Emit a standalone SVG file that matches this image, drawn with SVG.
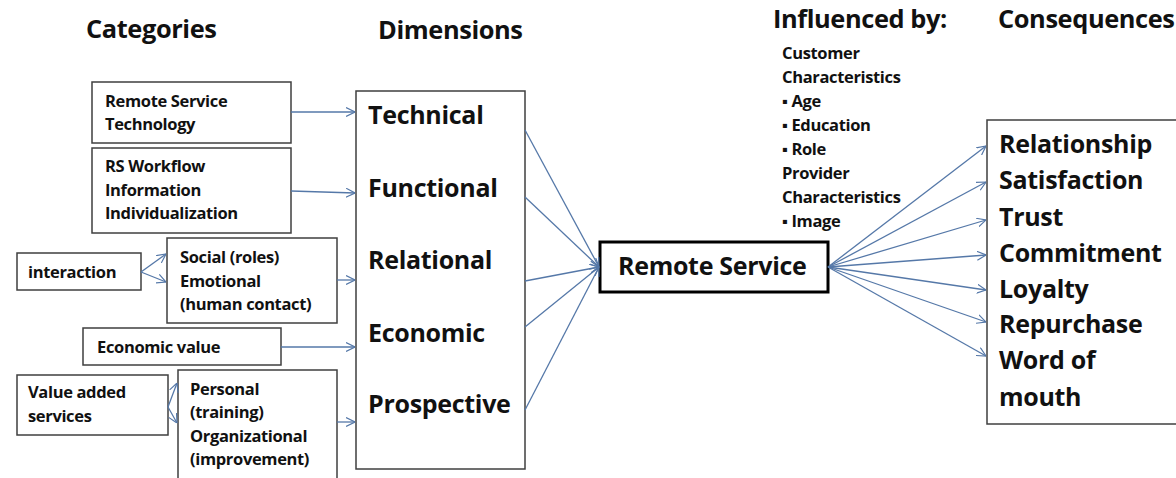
<svg xmlns="http://www.w3.org/2000/svg" width="1176" height="478" viewBox="0 0 1176 478">
  <style>
    .box { fill: #ffffff; stroke: #3f3f3f; stroke-width: 1.5; }
    .main { fill: #ffffff; stroke: #000000; stroke-width: 3; }
    .t { font-family: "Open Sans", "Liberation Sans", sans-serif; font-weight: bold; fill: #111111; }
    .head { font-size: 25.4px; letter-spacing: -0.4px; }
    .big { font-size: 25px; letter-spacing: -0.3px; }
    .small { font-size: 16.5px; letter-spacing: -0.35px; }
    .link { fill: none; stroke: #5578a8; stroke-width: 1.3; }
  </style>
  <defs>
    <marker id="arr" viewBox="0 0 10 10" refX="10" refY="5" markerWidth="9" markerHeight="10" markerUnits="userSpaceOnUse" orient="auto">
      <path d="M0,0 L10,5 L0,10" fill="none" stroke="#5578a8" stroke-width="1.3"/>
    </marker>
  </defs>
  <rect width="1176" height="478" fill="#ffffff"/>

  <!-- column headings -->
  <g id="headings">
    <text class="t head" x="86" y="38">Categories</text>
    <text class="t head" x="378" y="39">Dimensions</text>
    <text class="t head" x="773" y="28">Influenced by:</text>
    <text class="t head" x="998" y="28">Consequences</text>
  </g>

  <!-- category boxes -->
  <g id="remote-service-technology">
    <rect class="box" x="92" y="82" width="199" height="61"/>
    <text class="t small" x="105" y="107">Remote Service</text>
    <text class="t small" x="105" y="130">Technology</text>
  </g>
  <g id="rs-workflow">
    <rect class="box" x="92" y="148" width="199" height="85"/>
    <text class="t small" x="105" y="172">RS Workflow</text>
    <text class="t small" x="105" y="196">Information</text>
    <text class="t small" x="105" y="219">Individualization</text>
  </g>
  <g id="interaction">
    <rect class="box" x="17" y="253" width="124" height="37"/>
    <text class="t small" x="28" y="278">interaction</text>
  </g>
  <g id="social-emotional">
    <rect class="box" x="167" y="238" width="170" height="85"/>
    <text class="t small" x="180" y="263">Social (roles)</text>
    <text class="t small" x="180" y="287">Emotional</text>
    <text class="t small" x="180" y="310">(human contact)</text>
  </g>
  <g id="economic-value">
    <rect class="box" x="83" y="328" width="198" height="37"/>
    <text class="t small" x="97" y="353">Economic value</text>
  </g>
  <g id="value-added-services">
    <rect class="box" x="17" y="375" width="151" height="60"/>
    <text class="t small" x="28" y="398">Value added</text>
    <text class="t small" x="28" y="422">services</text>
  </g>
  <g id="personal-organizational">
    <rect class="box" x="178" y="370" width="159" height="120"/>
    <text class="t small" x="190" y="395">Personal</text>
    <text class="t small" x="190" y="418">(training)</text>
    <text class="t small" x="190" y="442">Organizational</text>
    <text class="t small" x="190" y="465">(improvement)</text>
  </g>

  <!-- dimensions -->
  <g id="dimensions">
    <rect class="box" x="356" y="91" width="169" height="378"/>
    <text class="t big" x="368" y="124">Technical</text>
    <text class="t big" x="368" y="197">Functional</text>
    <text class="t big" x="368" y="269">Relational</text>
    <text class="t big" x="368" y="342">Economic</text>
    <text class="t big" x="368" y="413">Prospective</text>
  </g>

  <!-- central node -->
  <g id="remote-service">
    <rect class="main" x="600" y="242" width="228" height="50"/>
    <text class="t big" x="618" y="275">Remote Service</text>
  </g>

  <!-- influencing factors -->
  <g id="influences">
    <text class="t small" x="782" y="59">Customer</text>
    <text class="t small" x="782" y="83">Characteristics</text>
    <text class="t small" x="782" y="107">▪ Age</text>
    <text class="t small" x="782" y="131">▪ Education</text>
    <text class="t small" x="782" y="155">▪ Role</text>
    <text class="t small" x="782" y="179">Provider</text>
    <text class="t small" x="782" y="203">Characteristics</text>
    <text class="t small" x="782" y="227">▪ Image</text>
  </g>

  <!-- consequences -->
  <g id="consequences">
    <rect class="box" x="987" y="120" width="195" height="304"/>
    <text class="t big" x="999" y="153">Relationship</text>
    <text class="t big" x="999" y="189">Satisfaction</text>
    <text class="t big" x="999" y="226">Trust</text>
    <text class="t big" x="999" y="262">Commitment</text>
    <text class="t big" x="999" y="298">Loyalty</text>
    <text class="t big" x="999" y="333">Repurchase</text>
    <text class="t big" x="999" y="369">Word of</text>
    <text class="t big" x="999" y="406">mouth</text>
  </g>

  <!-- connectors -->
  <g id="connectors" class="link" marker-end="url(#arr)">
    <line x1="291" y1="112" x2="355" y2="112"/>
    <line x1="291" y1="191" x2="355" y2="193"/>
    <line x1="141" y1="272" x2="166" y2="254"/>
    <line x1="141" y1="272" x2="166" y2="282"/>
    <line x1="337" y1="280" x2="355" y2="280"/>
    <line x1="281" y1="347" x2="355" y2="347"/>
    <line x1="168" y1="407" x2="177" y2="383"/>
    <line x1="168" y1="407" x2="177" y2="423"/>
    <line x1="337" y1="422" x2="355" y2="422"/>

    <line x1="525" y1="130" x2="599" y2="267"/>
    <line x1="525" y1="197" x2="599" y2="267"/>
    <line x1="525" y1="281" x2="599" y2="267"/>
    <line x1="525" y1="327" x2="599" y2="267"/>
    <line x1="525" y1="410" x2="599" y2="267"/>

    <line x1="828" y1="267" x2="986" y2="146"/>
    <line x1="828" y1="267" x2="986" y2="182"/>
    <line x1="828" y1="267" x2="986" y2="220"/>
    <line x1="828" y1="267" x2="986" y2="255"/>
    <line x1="828" y1="267" x2="986" y2="290"/>
    <line x1="828" y1="267" x2="986" y2="322"/>
    <line x1="828" y1="267" x2="986" y2="356"/>
  </g>
</svg>
